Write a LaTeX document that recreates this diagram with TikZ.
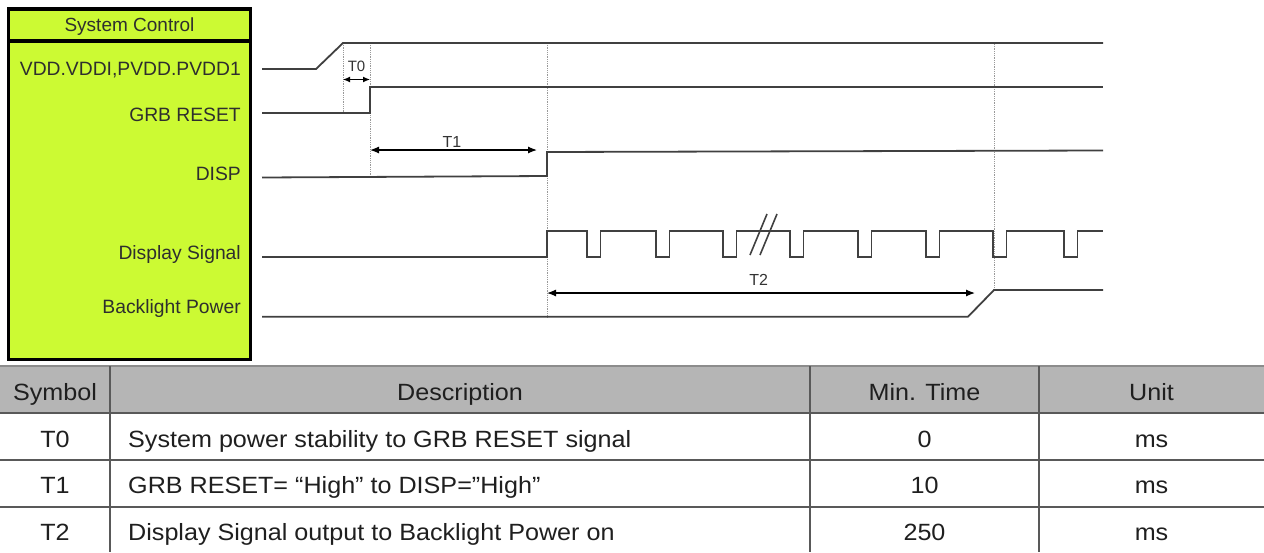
\documentclass[tikz,border=0pt]{standalone}
\usepackage{fontspec}
\setmainfont{Liberation Sans}
\newfontfamily\tabfont[FakeStretch=1.07]{Liberation Sans}
\usetikzlibrary{arrows.meta}
\definecolor{lime}{RGB}{204,250,51}
\definecolor{hdr}{RGB}{181,181,181}
\definecolor{sig}{RGB}{64,64,64}
\begin{document}
\begin{tikzpicture}[x=1pt,y=-1pt,
  sigline/.style={draw=sig, line width=1.8pt, line join=miter},
  guide/.style={draw=black!40, line width=0.8pt, densely dotted},
  dimarrow/.style={draw=black, line width=1.2pt, {Latex[length=9pt,width=7pt]}-{Latex[length=9pt,width=7pt]}},
  sdimarrow/.style={draw=black, line width=1.2pt, {Latex[length=7pt,width=6pt]}-{Latex[length=7pt,width=6pt]}},
  lbl/.style={anchor=base east, text=black!82, font=\fontsize{19.3}{20}\selectfont, inner sep=0pt},
  tlbl/.style={anchor=base, text=black!80, inner sep=0pt},
  cell/.style={anchor=base, font=\tabfont\fontsize{23.5}{25}\selectfont, text=black!88, inner sep=0pt},
  tabrule/.style={draw=black!65, line width=1.4pt}]
\path[use as bounding box] (0,0) rectangle (1264,552);

% control box
\node[draw=black, line width=3.5pt, fill=lime, minimum width=242pt, minimum height=350.5pt, inner sep=0pt] (ctl) at (129.5,184.25) {};
\coordinate (sepL) at (8.5,41);
\coordinate (sepR) at (250.5,41);
\draw[line width=3.5pt] (sepL) -- (sepR);
\node[tlbl, text=black!82, font=\fontsize{19}{20}\selectfont] (title) at (129.5,31.7) {System Control};

% signal labels
\node[lbl] (lvdd) at (241,75) {VDD.VDDI,PVDD.PVDD1};
\node[lbl] (lgrb) at (241,121) {GRB RESET};
\node[lbl] (ldisp) at (241,180) {DISP};
\node[lbl] (ldsig) at (241,259.3) {Display Signal};
\node[lbl] (lbl) at (241,313.3) {Backlight Power};

% guide lines
\draw[guide] (343,43) -- (343,113);
\draw[guide] (370,43) -- (370,177);
\draw[guide] (547,43) -- (547,317);
\draw[guide] (994,44) -- (994,290);

% waveforms
\draw[sigline] (262,69) -- (316,69) -- (343,43) -- (1103,43);
\draw[sigline] (262,113.3) -- (370,113.3) -- (370,87) -- (1103,87);
\draw[sigline] (262,177.5) -- (547,176) -- (547,152) -- (1103,150.5);
\draw[sigline] (262,257.3) -- (547,257.3) -- (547,230.7)
  \foreach \p in {587,656,723,790,858,926,993,1064}{
    -- (\p,230.7) -- (\p,257.3) -- ({\p+13.5},257.3) -- ({\p+13.5},230.7)}
  -- (1103,230.7);
\draw[sigline] (262,316.7) -- (968,316.7) -- (994,290) -- (1103,290);
\draw[sigline, line width=1.6pt] (750,255) -- (767,214);
\draw[sigline, line width=1.6pt] (760,255) -- (777,214);

% timing dimensions
\coordinate (t0a) at (343,79.5);
\coordinate (t0b) at (370,79.5);
\draw[sdimarrow] (t0a) -- (t0b);
\node[tlbl, font=\fontsize{15}{16}\selectfont] (t0) at (356.5,71.7) {T0};
\coordinate (t1a) at (370,150);
\coordinate (t1b) at (537,150);
\draw[dimarrow] (t1a) -- (t1b);
\node[tlbl, font=\fontsize{16}{17}\selectfont] (t1) at (452,147) {T1};
\coordinate (t2a) at (547,293);
\coordinate (t2b) at (975,293);
\draw[dimarrow] (t2a) -- (t2b);
\node[tlbl, font=\fontsize{16}{17}\selectfont] (t2) at (758.7,285) {T2};

% table
\fill[hdr] (0,366) rectangle (1264,413);
\draw[draw=black!45, line width=1.2pt] (0,366) -- (1264,366);
\draw[tabrule, line width=1.8pt] (0,413) -- (1264,413);
\draw[tabrule] (0,460) -- (1264,460);
\draw[tabrule] (0,507) -- (1264,507);
\draw[tabrule] (110,366) -- (110,552);
\draw[tabrule] (810,366) -- (810,552);
\draw[tabrule] (1039,366) -- (1039,552);

\node[cell] (hsym) at (55,400.7) {Symbol};
\node[cell] (hdesc) at (460,400.7) {Description};
\node[cell] (hmin) at (924.5,400.7) {Min. Time};
\node[cell] (hunit) at (1151.5,400.7) {Unit};

\node[cell] (s0) at (55,447.3) {T0};
\node[cell, anchor=base west] (d0) at (128,447.3) {System power stability to GRB RESET signal};
\node[cell] (m0) at (924.5,447.3) {0};
\node[cell] (u0) at (1151.5,447.3) {ms};

\node[cell] (s1) at (55,493.3) {T1};
\node[cell, anchor=base west] (d1) at (128,493.3) {GRB RESET= “High” to DISP=”High”};
\node[cell] (m1) at (924.5,493.3) {10};
\node[cell] (u1) at (1151.5,493.3) {ms};

\node[cell] (s2) at (55,540) {T2};
\node[cell, anchor=base west] (d2) at (128,540) {Display Signal output to Backlight Power on};
\node[cell] (m2) at (924.5,540) {250};
\node[cell] (u2) at (1151.5,540) {ms};
\end{tikzpicture}
\end{document}
